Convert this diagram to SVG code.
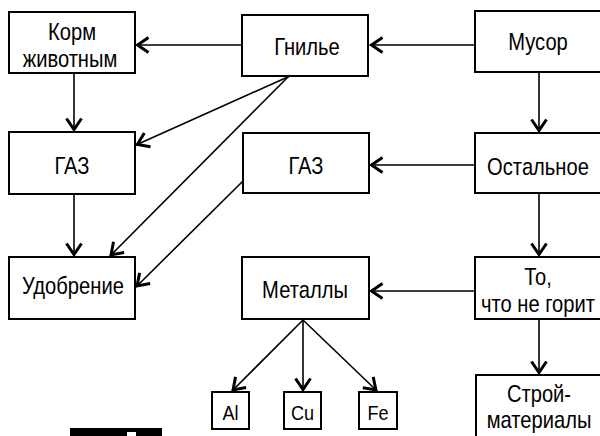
<svg xmlns="http://www.w3.org/2000/svg" width="600" height="436" viewBox="0 0 600 436">
<defs>
<style>
.box{fill:#fff;stroke:#000;stroke-width:2}
.t{font-family:"Liberation Sans",Arial,sans-serif;font-size:24px;text-anchor:middle;fill:#000}
.s{font-family:"Liberation Sans",Arial,sans-serif;font-size:21px;text-anchor:middle;fill:#000}
.c{fill:none;stroke:#000;stroke-width:1.6;marker-end:url(#a)}
</style>
<marker id="a" markerUnits="userSpaceOnUse" markerWidth="20" markerHeight="20" viewBox="-16 -10 20 20" refX="0" refY="0" orient="auto">
<path d="M-12.5,-7.5 L-1.5,0 L-12.5,7.5" fill="none" stroke="#000" stroke-width="3" stroke-linejoin="miter"/>
</marker>
</defs>
<rect width="600" height="436" fill="#fff"/>
<g id="connectors">
<line class="c" x1="242" y1="45" x2="136" y2="45"/>
<line class="c" x1="475" y1="45" x2="370" y2="45"/>
<line class="c" x1="539" y1="72" x2="539" y2="132"/>
<line class="c" x1="74" y1="73" x2="74" y2="131"/>
<line class="c" x1="290" y1="76" x2="136" y2="145"/>
<line class="c" x1="289" y1="76" x2="110" y2="256"/>
<line class="c" x1="243" y1="181" x2="136" y2="287"/>
<line class="c" x1="475" y1="165" x2="370" y2="165"/>
<line class="c" x1="539" y1="193" x2="539" y2="256"/>
<line class="c" x1="74" y1="194" x2="74" y2="256"/>
<line class="c" x1="475" y1="291" x2="370" y2="291"/>
<line class="c" x1="539" y1="319" x2="539" y2="374"/>
<line class="c" x1="303" y1="320" x2="232" y2="391"/>
<line class="c" x1="303" y1="320" x2="303" y2="391"/>
<line class="c" x1="303" y1="320" x2="377" y2="391"/>
</g>
<g id="korm"><rect class="box" x="9" y="12" width="126" height="61"/>
<text class="t" transform="translate(72 40) scale(0.84 1)">Корм</text>
<text class="t" transform="translate(70 67) scale(0.84 1)">животным</text></g>
<g id="gnilye"><rect class="box" x="242" y="15" width="126" height="61"/>
<text class="t" transform="translate(307 55) scale(0.84 1)">Гнилье</text></g>
<g id="musor"><rect class="box" x="475" y="11" width="140" height="61"/>
<text class="t" transform="translate(538 50) scale(0.84 1)">Мусор</text></g>
<g id="gaz1"><rect class="box" x="9" y="132" width="126" height="62"/>
<text class="t" transform="translate(72 174) scale(0.84 1)">ГАЗ</text></g>
<g id="gaz2"><rect class="box" x="243" y="133" width="126" height="60"/>
<text class="t" transform="translate(306 174) scale(0.84 1)">ГАЗ</text></g>
<g id="ostalnoe"><rect class="box" x="475" y="133" width="140" height="60"/>
<text class="t" transform="translate(538 175) scale(0.84 1)">Остальное</text></g>
<g id="udobrenie"><rect class="box" x="9" y="257" width="126" height="62"/>
<text class="t" transform="translate(73 294) scale(0.84 1)">Удобрение</text></g>
<g id="metally"><rect class="box" x="242" y="257" width="127" height="62"/>
<text class="t" transform="translate(305 298) scale(0.84 1)">Металлы</text></g>
<g id="negorit"><rect class="box" x="475" y="257" width="140" height="62"/>
<text class="t" transform="translate(538 285) scale(0.84 1)">То,</text>
<text class="t" transform="translate(538 312) scale(0.84 1)">что не горит</text></g>
<g id="stroy"><rect class="box" x="476" y="375" width="140" height="70"/>
<text class="t" transform="translate(539 402) scale(0.84 1)">Строй-</text>
<text class="t" transform="translate(539 428) scale(0.84 1)">материалы</text></g>
<g id="al"><rect class="box" x="212" y="392" width="37" height="37"/>
<text class="s" transform="translate(230.5 420) scale(0.86 1)">Al</text></g>
<g id="cu"><rect class="box" x="284" y="392" width="37" height="37"/>
<text class="s" transform="translate(302.5 420) scale(0.86 1)">Cu</text></g>
<g id="fe"><rect class="box" x="359" y="392" width="38" height="37"/>
<text class="s" transform="translate(378 420) scale(0.86 1)">Fe</text></g>
<g id="bar"><rect x="70" y="428" width="92" height="8" fill="#000"/>
<rect x="127" y="432" width="9" height="4" fill="#fff"/></g>
</svg>
